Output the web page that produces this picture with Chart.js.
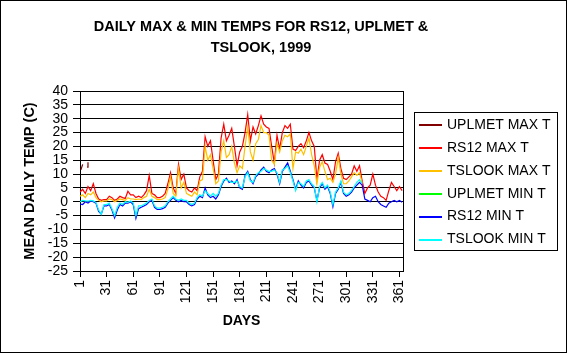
<!DOCTYPE html>
<html>
<head>
<meta charset="utf-8">
<script src="https://cdn.jsdelivr.net/npm/chart.js@4.4.0/dist/chart.umd.min.js"></script>
<style>
  html, body { margin: 0; padding: 0; background: #fff; }
  canvas { display: block; }
</style>
</head>
<body>
<canvas id="chart" width="568" height="354"></canvas>
<script>
// Daily max & min temps, 1999 — values every third day.

const days = [
  1, 4, 7, 10, 13, 16, 19, 22, 25, 28,
  31, 34, 37, 40, 43, 46, 49, 52, 55, 58,
  61, 64, 67, 70, 73, 76, 79, 82, 85, 88,
  91, 94, 97, 100, 103, 106, 109, 112, 115, 118,
  121, 124, 127, 130, 133, 136, 139, 142, 145, 148,
  151, 154, 157, 160, 163, 166, 169, 172, 175, 178,
  181, 184, 187, 190, 193, 196, 199, 202, 205, 208,
  211, 214, 217, 220, 223, 226, 229, 232, 235, 238,
  241, 244, 247, 250, 253, 256, 259, 262, 265, 268,
  271, 274, 277, 280, 283, 286, 289, 292, 295, 298,
  301, 304, 307, 310, 313, 316, 319, 322, 325, 328,
  331, 334, 337, 340, 343, 346, 349, 352, 355, 358, 361, 364,
];

const dayTicks = [1, 31, 61, 91, 121, 151, 181, 211, 241, 271, 301, 331, 361];
const tempTicks = { min: -25, max: 40, step: 5 };

// UPLMET only logged a few days in early January
const uplmetMaxDays = [2, 3, 4, 6, 9, 10];
const uplmetMax = [11.5, 12.5, 13.5, null, 12.5, 14.3];
const uplmetMin = [];

const rs12Max = [
  3.5, 4.5, 3.0, 5.5, 4.0, 6.5, 3.0, 1.0, 0.5, 0.8,
  0.8, 2.0, 1.5, 0.5, 1.0, 2.0, 1.5, 1.2, 3.8, 2.5,
  2.5, 1.5, 2.0, 1.5, 2.5, 4.0, 9.5, 3.0, 2.5, 1.5,
  1.5, 2.0, 3.0, 6.5, 10.5, 5.0, 3.0, 13.5, 8.0, 10.0,
  5.0, 4.0, 3.5, 5.0, 4.0, 9.0, 11.0, 23.5, 20.0, 22.0,
  15.0, 8.0, 10.0, 23.0, 28.0, 22.0, 24.0, 26.5, 20.0, 13.0,
  18.0, 20.0, 25.0, 31.5, 22.0, 27.0, 24.5, 27.5, 31.0, 28.0,
  27.0, 26.5, 20.0, 14.0, 24.0, 19.0, 25.0, 27.5, 26.5, 28.0,
  19.0, 18.5, 20.0, 21.0, 19.5, 22.0, 25.0, 22.0, 20.0, 8.0,
  15.0, 17.0, 14.0, 13.5, 11.0, 8.0, 14.5, 17.5, 12.0, 8.5,
  8.0, 9.0, 10.0, 13.0, 11.0, 13.0, 7.5, 3.0, 5.0, 6.0,
  10.0, 6.0, 3.5, 2.0, 1.5, 0.5, 4.0, 7.0, 5.5, 4.0, 5.5, 4.0,
];

const tslookMax = [
  2.0, 2.5, 1.5, 3.0, 2.5, 3.5, 1.5, 0.5, 0.0, 0.3,
  0.3, 1.0, 0.8, 0.0, 0.5, 1.0, 0.8, 0.5, 1.5, 1.0,
  1.0, 0.8, 1.0, 0.8, 1.5, 2.0, 4.5, 2.0, 1.5, 0.8,
  0.8, 1.0, 1.5, 4.5, 9.0, 3.0, 2.0, 12.0, 5.0, 7.0,
  3.0, 2.5, 2.0, 3.5, 2.5, 7.5, 8.0, 20.0, 15.0, 17.0,
  12.0, 6.5, 7.5, 18.0, 22.0, 16.0, 17.0, 20.0, 14.0, 10.5,
  13.0, 12.0, 20.0, 27.0, 18.0, 15.0, 21.0, 22.5, 27.5, 25.0,
  25.0, 24.0, 15.0, 13.5, 21.0, 18.0, 22.0, 24.0, 23.5, 24.5,
  12.0, 18.0, 17.5, 19.0, 17.0, 20.0, 23.0, 17.0, 13.0, 6.5,
  12.5, 14.5, 11.0, 8.0, 8.5, 7.0, 10.0, 16.0, 10.0, 6.5,
  6.5, 7.5, 9.0, 10.5, 9.5, 10.5, 6.8, null, null, null,
  null, null, null, null, null, null, null, null, null, null, null, null,
];

const rs12Min = [
  -0.8, -1.0, 0.0, -0.5, 0.3, 0.0, -0.5, -3.5, -4.5, -1.5,
  -1.5, -1.0, -3.0, -5.8, -3.0, -1.0, -1.5, -0.5, -0.5, 0.0,
  -1.0, -6.0, -2.5, -2.0, -1.5, -1.0, 0.0, 0.5, -2.0, -2.8,
  -2.8, -2.5, -2.0, -0.5, 0.5, 1.5, 0.5, 0.0, 0.5, 0.0,
  0.0, -1.0, -1.5, -1.0, 1.0, 2.0, 1.5, 5.0, 2.5, 1.5,
  2.0, 1.0, 2.5, 5.5, 7.5, 8.5, 7.0, 7.5, 6.5, 8.0,
  5.0, 4.5, 9.5, 11.0, 8.0, 6.5, 9.0, 10.0, 11.5, 12.5,
  11.0, 10.5, 11.5, 12.0, 10.0, 6.5, 11.0, 12.5, 14.0, 11.0,
  8.0, 4.5, 7.5, 6.0, 5.0, 7.0, 7.5, 6.0, 5.0, 0.5,
  5.0, 6.5, 4.5, 5.5, 3.0, -1.8, 3.0, 4.5, 7.0, 3.0,
  2.0, 2.5, 3.5, 5.0, 6.0, 7.0, 6.0, 1.0, 0.5, 0.0,
  1.5, 2.0, 0.0, -1.0, -1.5, -2.0, -0.5, 0.0, 0.5, 0.0, 0.5, -0.2,
];

const tslookMin = [
  0.0, 0.5, 0.3, 0.2, 0.5, 0.3, -0.3, -3.0, -4.5, -1.0,
  -1.0, -0.5, -2.5, -5.0, -2.0, -0.5, -1.0, 0.0, -0.2, 0.3,
  -0.5, -5.0, -1.5, -1.5, -1.0, -0.5, 0.5, 1.0, -1.5, -2.3,
  -2.3, -2.0, -1.5, 0.0, 1.0, 2.0, 1.0, 0.5, 1.0, 0.5,
  0.5, -0.5, -1.0, -0.5, 1.5, 2.5, 2.0, 4.0, 3.0, 2.0,
  3.0, 2.0, 3.0, 6.0, 8.0, 8.0, 7.5, 7.0, 7.0, 7.5,
  5.5, 5.0, 9.0, 10.5, 7.5, 7.0, 9.5, 10.5, 11.0, 12.0,
  11.5, 11.0, 11.0, 11.5, 10.5, 7.0, 11.5, 12.0, 13.0, 10.5,
  7.5, 4.0, 7.0, 6.5, 5.5, 7.5, 8.0, 6.5, 5.5, 0.0,
  5.5, 7.0, 5.0, 6.0, 3.5, -1.0, 3.5, 5.0, 7.5, 3.5,
  2.5, 3.0, 4.0, 5.5, 7.0, 8.0, 6.5, null, null, null,
  null, null, null, null, null, null, null, null, null, null, null, null,
];

const seriesNames = ['UPLMET MAX T', 'RS12 MAX T', 'TSLOOK MAX T', 'UPLMET MIN T', 'RS12 MIN T', 'TSLOOK MIN T'];
const seriesColors = ['#800000', '#ff0000', '#ffc000', '#00ff00', '#0000ff', '#00ffff'];

const FONT = '"Liberation Sans", Arial, sans-serif';

// ── Plugins: page frame, title, plot frame, legend box ───────────────────────

const pageFrame = {
  id: 'pageFrame',
  beforeDraw(chart) {
    const { ctx, width, height } = chart;
    ctx.save();
    ctx.fillStyle = '#fff';
    ctx.fillRect(0, 0, width, height);
    ctx.strokeStyle = '#000';
    ctx.lineWidth = 1;
    ctx.strokeRect(0.5, 0.5, width - 2, height - 2);

    ctx.fillStyle = '#000';
    ctx.font = 'bold 14.5px ' + FONT;
    ctx.textAlign = 'center';
    ctx.textBaseline = 'middle';
    ctx.fillText('DAILY MAX & MIN TEMPS FOR RS12, UPLMET &', 261, 27);
    ctx.fillText('TSLOOK, 1999', 261, 47.5);
    ctx.restore();
  },
};

const plotFrame = {
  id: 'plotFrame',
  beforeDatasetsDraw(chart) {
    const { ctx, chartArea: a } = chart;
    ctx.save();
    ctx.strokeStyle = '#000';
    ctx.lineWidth = 1;
    ctx.beginPath();
    ctx.moveTo(Math.round(a.right) + 0.5, Math.round(a.top));
    ctx.lineTo(Math.round(a.right) + 0.5, Math.round(a.bottom) + 1);
    ctx.stroke();
    ctx.restore();
  },
};

const legendBox = {
  id: 'legendBox',
  afterDraw(chart) {
    const { ctx } = chart;
    ctx.save();
    ctx.strokeStyle = '#000';
    ctx.lineWidth = 1;
    ctx.strokeRect(414.5, 112.5, 143, 138);
    ctx.font = '14px ' + FONT;
    ctx.textBaseline = 'middle';
    ctx.textAlign = 'left';
    chart.data.datasets.forEach((ds, i) => {
      const y = 125 + i * 22.9;
      ctx.strokeStyle = ds.borderColor;
      ctx.lineWidth = 2;
      ctx.beginPath();
      ctx.moveTo(419, Math.round(y));
      ctx.lineTo(442, Math.round(y));
      ctx.stroke();
      ctx.fillStyle = '#000';
      ctx.fillText(ds.label, 447, y);
    });
    ctx.restore();
  },
};

// ── Chart ─────────────────────────────────────────────────────────────────────

const seriesData = [
  uplmetMaxDays.map((d, i) => ({ x: d, y: uplmetMax[i] })),
  rs12Max,
  tslookMax,
  uplmetMin,
  rs12Min,
  tslookMin,
];

new Chart(document.getElementById('chart'), {
  type: 'line',
  data: {
    labels: days,
    datasets: seriesData.map((data, i) => ({
      label: seriesNames[i],
      data,
      borderColor: seriesColors[i],
      backgroundColor: seriesColors[i],
      borderWidth: 1.2,
      pointRadius: 0,
      fill: false,
      tension: 0,
      spanGaps: false,
      order: seriesNames.length - i, // later series drawn on top, as in the original
    })),
  },
  options: {
    responsive: false,
    animation: false,
    events: [],
    layout: { padding: { left: 0, top: 91, right: 165, bottom: 0 } },
    plugins: {
      legend: { display: false },
      title: { display: false },
      tooltip: { enabled: false },
    },
    scales: {
      x: {
        type: 'linear',
        min: 1,
        max: 365,
        afterBuildTicks: scale => { scale.ticks = dayTicks.map(v => ({ value: v })); },
        afterFit: scale => { scale.height = 83; },
        grid: { drawOnChartArea: false, drawTicks: true, tickLength: 6, color: '#000', tickColor: '#000' },
        border: { display: true, color: '#000', width: 1 },
        ticks: {
          minRotation: 90,
          maxRotation: 90,
          autoSkip: false,
          padding: 3,
          color: '#000',
          font: { family: FONT, size: 14 },
        },
        title: {
          display: true,
          text: 'DAYS',
          color: '#000',
          font: { family: FONT, size: 14, weight: 'bold' },
          padding: { top: 0, bottom: 24 },
        },
      },
      y: {
        min: tempTicks.min,
        max: tempTicks.max,
        afterFit: scale => { scale.width = 80; },
        grid: { color: '#000', lineWidth: 1, drawTicks: true, tickLength: 7, tickColor: '#000' },
        border: { display: true, color: '#000', width: 1 },
        ticks: {
          stepSize: tempTicks.step,
          autoSkip: false,
          padding: 5,
          color: '#000',
          font: { family: FONT, size: 14 },
        },
        title: {
          display: true,
          text: 'MEAN DAILY TEMP (C)',
          color: '#000',
          font: { family: FONT, size: 14.5, weight: 'bold' },
          padding: { top: 21, bottom: 0 },
        },
      },
    },
  },
  plugins: [pageFrame, plotFrame, legendBox],
});
</script>
</body>
</html>
